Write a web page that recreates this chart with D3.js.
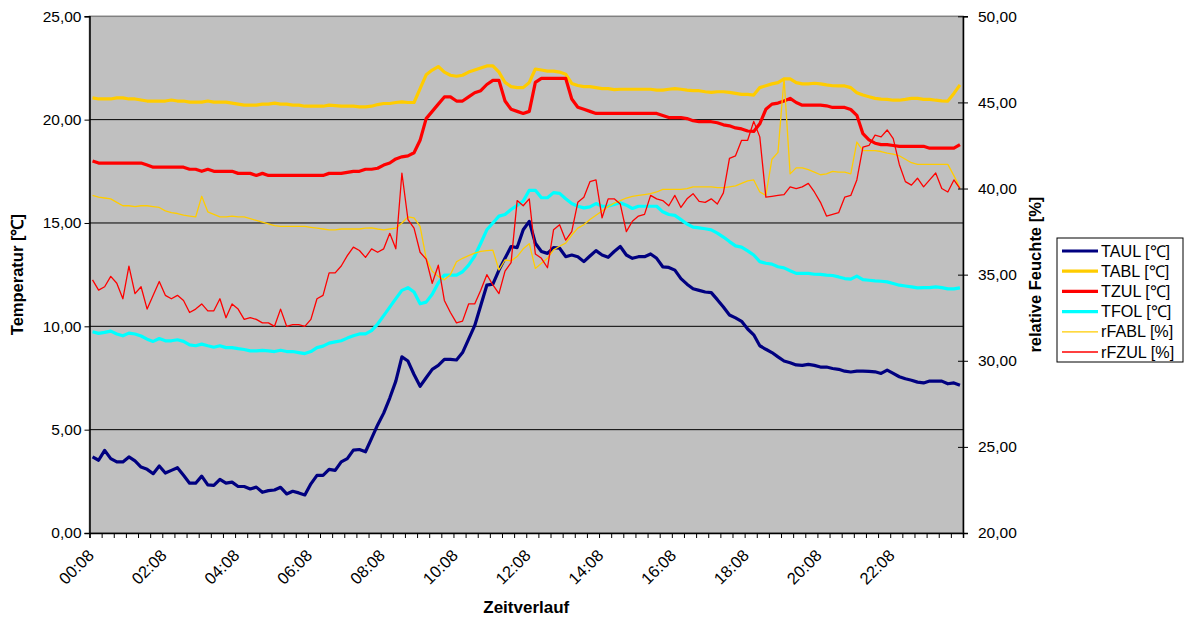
<!DOCTYPE html>
<html>
<head>
<meta charset="utf-8">
<script src="https://cdn.jsdelivr.net/npm/d3@7"></script>
<style>
  html, body { margin: 0; padding: 0; background: #fff; }
  svg { display: block; font-family: "Liberation Sans", Arial, sans-serif; }
</style>
</head>
<body>
<svg id="chart" width="1189" height="624"></svg>
<script>
// ---------- DATA ----------
const seriesNames = ["TAUL [℃]", "TABL [℃]", "TZUL [℃]", "TFOL [℃]", "rFABL [%]", "rFZUL [%]"];
const tickLabels = ["00:08","02:08","04:08","06:08","08:08","10:08","12:08","14:08","16:08","18:08","20:08","22:08"];
// categories: one reading every 10 minutes from 00:08
const categories = d3.range(144).map(i => {
  const m = 8 + i * 10;
  return String(Math.floor(m / 60)).padStart(2, "0") + ":" + String(m % 60).padStart(2, "0");
});

const TAUL = [3.68,3.52,4.0,3.6,3.44,3.44,3.68,3.49,3.19,3.08,
  2.87,3.24,2.9,3.03,3.16,2.79,2.41,2.41,2.75,2.33,
  2.3,2.59,2.41,2.46,2.25,2.25,2.13,2.22,1.97,2.05,
  2.08,2.21,1.89,2.02,1.94,1.84,2.38,2.79,2.79,3.08,
  3.03,3.44,3.6,4.01,4.04,3.93,4.58,5.23,5.8,6.53,
  7.35,8.52,8.32,7.67,7.1,7.51,7.92,8.11,8.4,8.4,
  8.37,8.73,9.38,10.03,11.01,11.99,12.04,12.72,13.29,13.86,
  13.81,14.67,15.08,14.02,13.62,13.53,13.81,13.78,13.37,13.45,
  13.37,13.13,13.4,13.66,13.45,13.34,13.62,13.86,13.45,13.29,
  13.37,13.37,13.5,13.29,12.88,12.85,12.72,12.31,12.04,11.82,
  11.74,11.66,11.63,11.29,10.93,10.55,10.41,10.24,9.87,9.59,
  9.06,8.89,8.73,8.52,8.32,8.24,8.13,8.11,8.16,8.11,
  8.03,8.03,7.96,7.92,7.83,7.79,7.83,7.83,7.82,7.8,
  7.72,7.88,7.72,7.56,7.46,7.39,7.3,7.26,7.35,7.35,
  7.35,7.22,7.26,7.15];

const TABL = [21.05,21.0,21.0,21.0,21.05,21.05,21.0,21.0,20.95,20.9,
  20.9,20.9,20.9,20.95,20.9,20.9,20.85,20.85,20.85,20.9,
  20.85,20.85,20.85,20.8,20.75,20.7,20.7,20.7,20.75,20.75,
  20.8,20.75,20.75,20.7,20.7,20.65,20.65,20.65,20.65,20.7,
  20.68,20.65,20.65,20.65,20.62,20.62,20.65,20.73,20.78,20.78,
  20.83,20.86,20.83,20.83,21.5,22.17,22.4,22.57,22.3,22.15,
  22.1,22.15,22.3,22.4,22.5,22.6,22.6,22.3,21.8,21.6,
  21.55,21.55,21.8,22.45,22.4,22.35,22.35,22.3,22.2,21.75,
  21.65,21.6,21.6,21.55,21.5,21.5,21.45,21.47,21.47,21.47,
  21.47,21.47,21.47,21.43,21.43,21.47,21.5,21.47,21.43,21.4,
  21.4,21.35,21.32,21.35,21.35,21.32,21.27,21.22,21.22,21.19,
  21.55,21.64,21.73,21.79,21.97,21.97,21.79,21.73,21.73,21.76,
  21.73,21.68,21.64,21.63,21.63,21.55,21.3,21.19,21.11,21.03,
  20.99,20.98,20.94,20.94,20.98,21.03,21.03,20.98,20.98,20.94,
  20.91,20.9,21.27,21.68];

const TZUL = [18.0,17.9,17.9,17.9,17.9,17.9,17.9,17.9,17.9,17.8,
  17.7,17.7,17.7,17.7,17.7,17.7,17.6,17.6,17.5,17.6,
  17.5,17.5,17.5,17.5,17.4,17.4,17.4,17.3,17.4,17.3,
  17.3,17.3,17.3,17.3,17.3,17.3,17.3,17.3,17.3,17.4,
  17.4,17.4,17.45,17.5,17.5,17.6,17.6,17.65,17.8,17.9,
  18.1,18.2,18.25,18.4,19.0,20.05,20.4,20.75,21.1,21.1,
  20.9,20.9,21.1,21.3,21.4,21.7,21.9,21.9,20.9,20.5,
  20.4,20.3,20.4,21.8,22.0,22.0,22.0,22.0,22.0,21.0,
  20.6,20.5,20.4,20.3,20.3,20.3,20.3,20.3,20.3,20.3,
  20.3,20.3,20.3,20.3,20.2,20.1,20.1,20.1,20.05,19.95,
  19.9,19.9,19.9,19.85,19.75,19.7,19.6,19.55,19.45,19.43,
  19.8,20.5,20.75,20.8,20.9,21.03,20.83,20.7,20.7,20.7,
  20.7,20.67,20.59,20.59,20.59,20.49,20.21,19.32,19.02,18.86,
  18.79,18.79,18.75,18.71,18.71,18.71,18.71,18.71,18.62,18.62,
  18.62,18.62,18.62,18.79];

const TFOL = [9.74,9.66,9.71,9.77,9.63,9.54,9.67,9.63,9.53,9.38,
  9.27,9.41,9.3,9.3,9.35,9.27,9.1,9.06,9.14,9.06,
  8.99,9.06,8.97,8.97,8.92,8.88,8.81,8.81,8.84,8.81,
  8.78,8.84,8.78,8.78,8.73,8.68,8.78,8.97,9.04,9.19,
  9.25,9.3,9.43,9.54,9.63,9.63,9.79,10.11,10.52,10.93,
  11.34,11.74,11.87,11.66,11.09,11.17,11.55,12.1,12.48,12.48,
  12.48,12.64,12.96,13.4,14.02,14.67,15.0,15.33,15.41,15.65,
  15.85,16.06,16.58,16.58,16.22,16.22,16.47,16.43,16.17,15.94,
  15.81,15.73,15.78,15.94,15.81,15.81,15.9,15.98,15.86,15.7,
  15.81,15.81,15.81,15.81,15.54,15.41,15.37,15.16,14.95,14.8,
  14.76,14.72,14.67,14.51,14.32,14.1,13.89,13.83,13.65,13.45,
  13.13,13.05,13.01,12.88,12.83,12.69,12.56,12.56,12.56,12.52,
  12.51,12.48,12.46,12.39,12.31,12.28,12.43,12.26,12.23,12.2,
  12.18,12.15,12.07,11.99,11.95,11.91,11.86,11.87,11.87,11.91,
  11.87,11.81,11.81,11.86];

const rFABL = [39.6,39.5,39.45,39.4,39.2,39.0,39.0,38.95,39.0,39.0,
  38.95,38.9,38.7,38.6,38.55,38.45,38.4,38.35,39.55,38.65,
  38.5,38.35,38.35,38.4,38.35,38.35,38.25,38.15,38.05,37.95,
  37.85,37.8,37.8,37.8,37.8,37.8,37.75,37.7,37.65,37.6,
  37.6,37.65,37.65,37.65,37.65,37.7,37.72,37.65,37.6,37.65,
  37.7,38.0,38.35,38.3,37.8,35.95,35.2,34.9,34.7,35.0,
  35.75,35.95,36.1,36.25,36.35,36.4,36.42,35.27,35.85,35.8,
  36.05,36.5,36.8,35.36,35.66,35.95,36.44,36.65,36.83,37.3,
  37.7,37.9,38.2,38.45,38.7,38.95,39.15,39.3,39.45,39.55,
  39.6,39.65,39.7,39.8,39.95,39.95,39.95,39.95,40.0,40.1,
  40.1,40.1,40.1,40.05,40.05,40.1,40.15,40.3,40.45,40.5,
  39.8,39.6,41.7,42.1,46.4,40.85,41.2,41.2,41.1,40.95,
  40.8,40.85,41.0,40.95,40.95,40.85,42.7,42.2,42.2,42.2,
  42.15,42.05,42.0,41.9,41.7,41.5,41.4,41.4,41.4,41.4,
  41.4,41.4,40.75,40.05];

const rFZUL = [34.7,34.1,34.3,34.9,34.5,33.6,35.5,33.9,34.3,33.0,
  33.8,34.6,33.8,33.6,33.8,33.5,32.8,33.0,33.3,32.9,
  32.9,33.6,32.5,33.3,33.0,32.4,32.5,32.4,32.2,32.2,
  32.0,33.0,32.0,32.1,32.1,32.0,32.4,33.6,33.8,35.1,
  35.1,35.5,36.1,36.6,36.4,36.0,36.5,36.3,36.5,37.4,
  36.5,40.9,38.2,37.7,36.3,35.9,34.5,35.55,33.5,32.8,
  32.2,32.3,33.3,33.3,34.1,35.0,34.4,33.9,35.2,35.7,
  39.3,39.0,39.4,36.2,35.95,35.4,37.6,37.9,37.0,37.5,
  39.2,39.5,40.4,40.5,38.3,39.4,39.4,39.1,37.5,38.1,
  38.4,38.5,39.6,39.4,39.3,39.0,39.6,38.9,39.4,39.7,
  39.25,39.2,39.4,39.1,39.75,41.75,41.9,42.8,42.8,43.9,
  43.0,39.5,39.55,39.6,39.65,40.1,40.0,40.1,40.3,39.8,
  39.2,38.4,38.5,38.6,39.5,39.6,40.5,42.4,42.5,43.1,
  43.0,43.4,42.9,41.4,40.4,40.2,40.6,40.1,40.5,40.9,
  40.0,39.8,40.5,40.0];

const leftTicks = [0, 5, 10, 15, 20, 25];
const rightTicks = [20, 25, 30, 35, 40, 45, 50];

// ---------- STYLE ----------
const series = [
  { name: seriesNames[0], values: TAUL,  axis: "L", color: "#000080", width: 3.2 },
  { name: seriesNames[1], values: TABL,  axis: "L", color: "#FFCC00", width: 3.2 },
  { name: seriesNames[2], values: TZUL,  axis: "L", color: "#FF0000", width: 3.2 },
  { name: seriesNames[3], values: TFOL,  axis: "L", color: "#00FFFF", width: 3.2 },
  { name: seriesNames[4], values: rFABL, axis: "R", color: "#FFCC00", width: 1.3 },
  { name: seriesNames[5], values: rFZUL, axis: "R", color: "#FF0000", width: 1.3 }
];

const svg = d3.select("#chart");
const L = 89.5, R = 963, T = 16.3, B = 533;
const fmt = d => d.toFixed(2).replace(".", ",");

const x = d3.scaleBand().domain(categories).range([L, R]).padding(0);
const xLin = d3.scaleLinear().domain([0, categories.length]).range([L, R]);
const yL = d3.scaleLinear().domain([0, 25]).range([B, T]);
const yR = d3.scaleLinear().domain([20, 50]).range([B, T]);

// plot area
svg.append("rect").attr("x", L).attr("y", T).attr("width", R - L).attr("height", B - T)
  .attr("fill", "#C0C0C0").attr("stroke", "#808080").attr("stroke-width", 1.5);

// gridlines
svg.append("g").selectAll("line").data(leftTicks.filter(v => v > 0 && v < 25)).join("line")
  .attr("x1", L).attr("x2", R).attr("y1", d => yL(d)).attr("y2", d => yL(d))
  .attr("stroke", "#000").attr("stroke-width", 1);

// lines
svg.append("clipPath").attr("id", "clip").append("rect")
  .attr("x", L).attr("y", T - 2).attr("width", R - L).attr("height", B - T + 4);
const gLines = svg.append("g").attr("clip-path", "url(#clip)");
series.forEach(s => {
  const ys = s.axis === "L" ? yL : yR;
  const line = d3.line()
    .x((d, i) => x(categories[i]) + x.bandwidth() / 2)
    .y(d => ys(d));
  gLines.append("path").datum(s.values).attr("d", line)
    .attr("fill", "none").attr("stroke", s.color).attr("stroke-width", s.width)
    .attr("stroke-linejoin", "round");
});

// left axis
const axL = svg.append("g").attr("transform", `translate(${L},0)`)
  .call(d3.axisLeft(yL).tickValues(leftTicks).tickFormat(fmt).tickSizeOuter(0).tickSize(5).tickPadding(3));
axL.select(".domain").attr("stroke", "#000").attr("stroke-width", 1.5);
axL.selectAll(".tick line").attr("stroke", "#000");
axL.selectAll(".tick text").attr("font-size", 15.5).attr("fill", "#000")
  .attr("font-family", "'Liberation Sans', Arial, sans-serif");

// right axis
const axR = svg.append("g").attr("transform", `translate(${R},0)`)
  .call(d3.axisRight(yR).tickValues(rightTicks).tickFormat(fmt).tickSizeOuter(0).tickSize(5).tickPadding(10));
axR.select(".domain").attr("stroke", "#000").attr("stroke-width", 1.5);
axR.selectAll(".tick line").attr("stroke", "#000").attr("x1", -5).attr("x2", 5);
axR.selectAll(".tick text").attr("font-size", 15.5).attr("fill", "#000")
  .attr("font-family", "'Liberation Sans', Arial, sans-serif");

// bottom axis (ticks every 2 categories)
const axB = svg.append("g").attr("transform", `translate(0,${B})`)
  .call(d3.axisBottom(xLin).tickValues(d3.range(0, categories.length + 1, 2)).tickFormat("").tickSizeOuter(0).tickSize(5));
axB.select(".domain").attr("stroke", "#000").attr("stroke-width", 1.5);
axB.selectAll(".tick line").attr("stroke", "#000");

// x tick labels
svg.append("g").selectAll("text").data(tickLabels).join("text")
  .attr("transform", d => `translate(${x(d) + x.bandwidth() / 2 - 6},${B + 15}) rotate(-45)`)
  .attr("text-anchor", "end").attr("dy", "0.72em")
  .attr("font-size", 16.5).attr("fill", "#000").text(d => d);

// axis titles
svg.append("text").attr("transform", `translate(23,${(T + B) / 2}) rotate(-90)`)
  .attr("text-anchor", "middle").attr("font-size", 16.5).attr("font-weight", "bold").text("Temperatur [℃]");
svg.append("text").attr("transform", `translate(1041,${(T + B) / 2}) rotate(-90)`)
  .attr("text-anchor", "middle").attr("font-size", 16.5).attr("font-weight", "bold").text("relative Feuchte [%]");
svg.append("text").attr("x", (L + R) / 2).attr("y", 613)
  .attr("text-anchor", "middle").attr("font-size", 17).attr("font-weight", "bold").text("Zeitverlauf");

// legend
const lg = svg.append("g").attr("transform", "translate(1057,238)");
lg.append("rect").attr("width", 126).attr("height", 124).attr("fill", "#fff").attr("stroke", "#000").attr("stroke-width", 1);
series.forEach((s, i) => {
  const yy = 13 + i * 20.2;
  lg.append("line").attr("x1", 5).attr("x2", 41).attr("y1", yy).attr("y2", yy)
    .attr("stroke", s.color).attr("stroke-width", s.width);
  lg.append("text").attr("x", 44).attr("y", yy).attr("dy", "0.35em")
    .attr("font-size", 16.2).attr("fill", "#000").text(s.name);
});
</script>
</body>
</html>
